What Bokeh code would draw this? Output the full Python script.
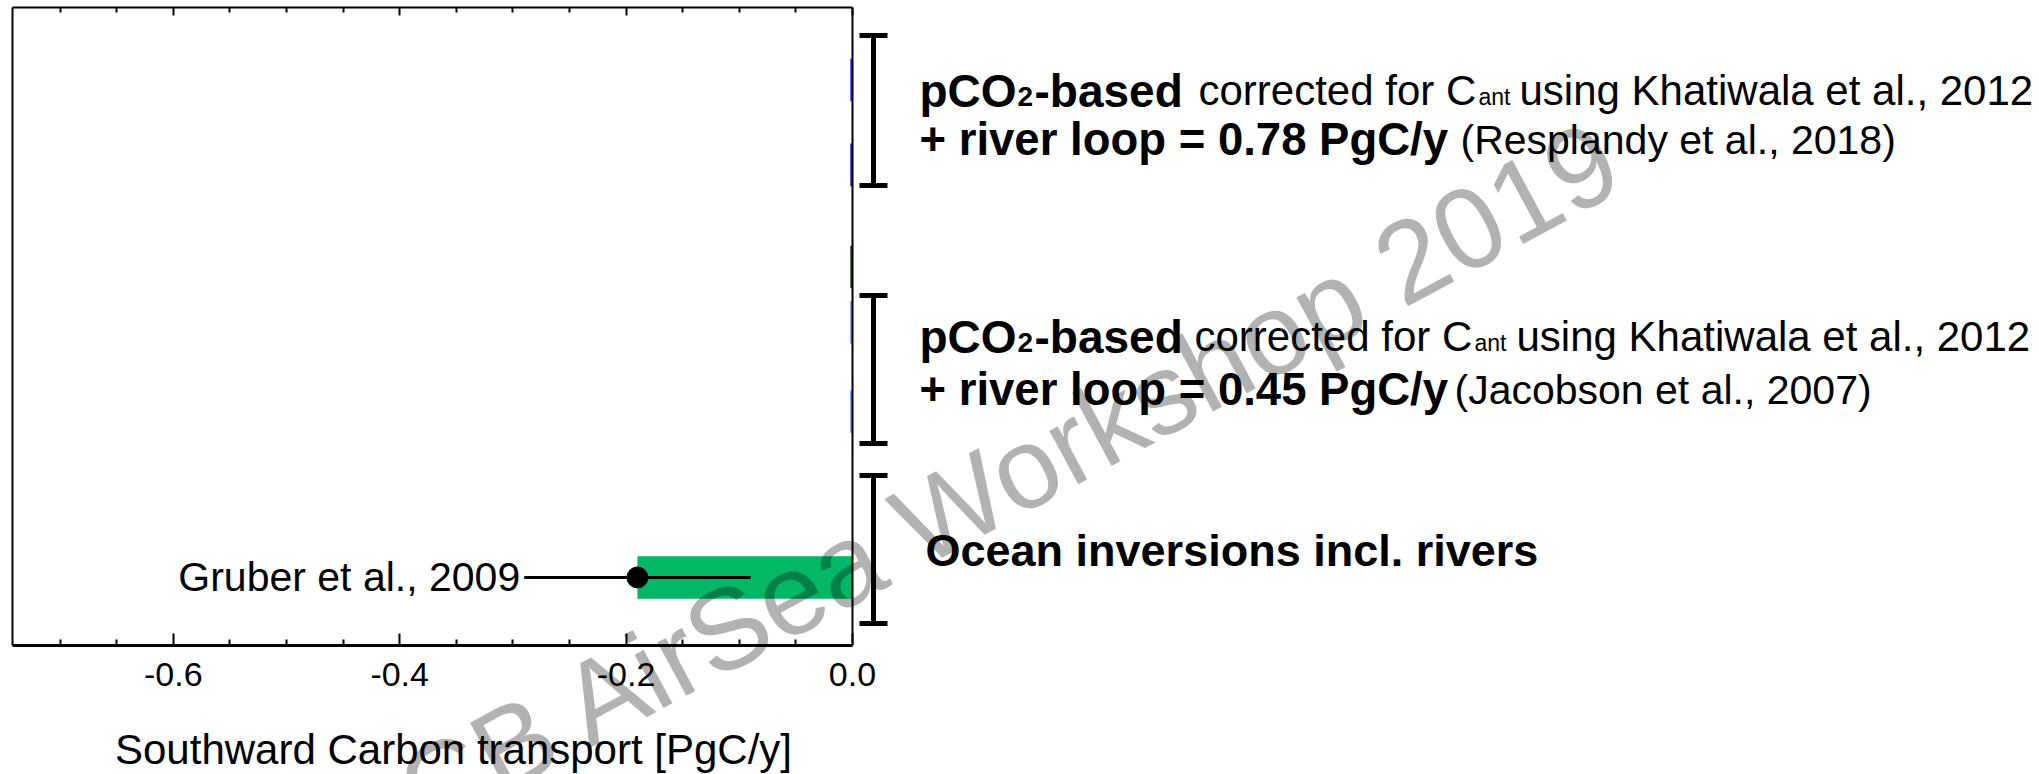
from bokeh.plotting import figure
from bokeh.layouts import column
from bokeh.models import Range1d, LinearAxis, FixedTicker, ColumnDataSource, Span
from bokeh.core.properties import value
from bokeh.embed import file_html
from bokeh.resources import INLINE

# Southward carbon transport estimates, one horizontal bar per row
row_pos = [13.3, 11.3, 8.9, 7.6, 5.5, 1.6]
transport = [-0.002, -0.002, -0.002, -0.002, -0.002, -0.19]
bar_colors = ["#3c3cff", "#2b2bd6", "#1f4f1f", "#5a9cff", "#5a9cff", "#02b866"]

# Gruber et al. (2009) ocean inversion estimate and its uncertainty
gruber_value = [-0.19]
gruber_err = [0.10]
gruber_row = [1.6]
gruber_label = ["Gruber et al., 2009"]

# x axis ticks
major_ticks = [-0.6, -0.4, -0.2, 0.0]
tick_labels = ["-0.6", "-0.4", "-0.2", "0.0"]
minor_ticks = [-0.7, -0.65, -0.55, -0.5, -0.45, -0.35, -0.3, -0.25,
               -0.15, -0.1, -0.05]
x_title = "Southward Carbon transport [PgC/y]"

FONT = "Liberation Sans"
W, H = 2039, 774
FL, FR, FT, FB = 12, 852, 7, 645          # boxed chart area (px)
XMIN, XMAX = -0.742, 0.0
YMIN, YMAX = 0.0, 15.0
# the frame runs on to the right edge so the notes beside the box fit in it
XRIGHT = XMAX + (W - FR) * (XMAX - XMIN) / (FR - FL)

# ---------------------------------------------------------------- chart
p = figure(width=W, height=H, x_range=Range1d(XMIN, XRIGHT),
           y_range=Range1d(YMIN, YMAX), output_backend="svg",
           toolbar_location=None,
           min_border_left=FL, min_border_right=0,
           min_border_top=FT, min_border_bottom=H - FB)
p.xgrid.visible = False
p.ygrid.visible = False
p.background_fill_color = "white"
p.border_fill_color = "white"
p.outline_line_color = None

ax = p.xaxis[0]
ax.bounds = (XMIN, XMAX)
ax.ticker = FixedTicker(ticks=major_ticks, minor_ticks=minor_ticks)
ax.major_label_overrides = dict(zip(major_ticks, tick_labels))
ax.major_label_text_font = FONT
ax.major_label_text_font_size = "34px"
ax.major_label_text_color = "black"
ax.major_label_standoff = 17
ax.axis_line_width = 3
ax.axis_line_color = "black"
ax.major_tick_in = 12
ax.major_tick_out = 0
ax.minor_tick_in = 6
ax.minor_tick_out = 0
ax.major_tick_line_width = 2
ax.minor_tick_line_width = 2
ax.major_tick_line_color = "black"
ax.minor_tick_line_color = "black"

# left edge of the box: a bare axis line
ay = p.yaxis[0]
ay.ticker = FixedTicker(ticks=[])
ay.major_label_standoff = 0
ay.major_tick_in = 0
ay.major_tick_out = 0
ay.minor_tick_in = 0
ay.minor_tick_out = 0
ay.axis_line_width = 2
ay.axis_line_color = "black"

# top edge with inward ticks and no labels
top = LinearAxis(ticker=FixedTicker(ticks=major_ticks, minor_ticks=minor_ticks),
                 bounds=(XMIN, XMAX),
                 major_label_overrides={t: "" for t in major_ticks},
                 major_label_text_font_size="1px", major_label_standoff=0,
                 axis_line_width=2, axis_line_color="black",
                 major_tick_in=8, major_tick_out=0,
                 minor_tick_in=5, minor_tick_out=0,
                 major_tick_line_width=2, minor_tick_line_width=2)
p.add_layout(top, "above")

# right edge of the box at zero transport
p.add_layout(Span(location=XMAX, dimension="height", line_color="black",
                  line_width=2))

# bars
bars = ColumnDataSource(dict(y=row_pos, v=transport, c=bar_colors))
p.hbar(y="y", left="v", right=0, height=1.0, fill_color="c",
       line_color=None, source=bars)

# Gruber estimate: error bar, point and name
lo = [v - e for v, e in zip(gruber_value, gruber_err)]
hi = [v + e for v, e in zip(gruber_value, gruber_err)]
p.segment(x0=lo, y0=gruber_row, x1=hi, y1=gruber_row,
          line_color="black", line_width=3)
p.scatter(x=gruber_value, y=gruber_row, size=21, color="black")
p.text(x=lo, y=gruber_row, text=gruber_label, text_align="right",
       text_baseline="middle", x_offset=-4,
       text_font=value(FONT), text_font_size="41px", text_color="black")

# ------------------------------------------- annotation layer (pixel space)
q = figure(width=W, height=H, x_range=Range1d(FL, W), y_range=Range1d(H, 0),
           output_backend="svg", toolbar_location=None,
           x_axis_location=None, y_axis_location=None,
           min_border_left=FL, min_border_right=0,
           min_border_top=0, min_border_bottom=0)
q.grid.visible = False
q.outline_line_color = None
q.background_fill_alpha = 0
q.border_fill_alpha = 0
q.styles = {"margin-top": f"-{H}px"}

# x axis title, centred under the tick labels
q.text(x=[453], y=[749], text=[x_title], text_align="center",
       text_baseline="middle", text_font=value(FONT),
       text_font_size=value("42px"), text_color="black")

# group brackets: (x, top, bottom)
brackets = [(873, 35, 185), (873, 295, 443), (873, 475, 623)]
CAP = 14
bx0, by0, bx1, by1 = [], [], [], []
for bx, t, b in brackets:
    bx0 += [bx, bx - CAP, bx - CAP]
    bx1 += [bx, bx + CAP, bx + CAP]
    by0 += [t, t, b]
    by1 += [b, t, b]
q.segment(x0=bx0, y0=by0, x1=bx1, y1=by1, line_color="black", line_width=5)

# group descriptions: (text, x px, baseline px, size px, style)
segments = [
    ("pCO", 919, 90, 46, "bold"),
    ("2", 1017, 96, 28, "bold"),
    ("-based", 1034, 90, 46, "bold"),
    ("corrected for C", 1198, 90, 42, "normal"),
    ("ant", 1478, 96, 23, "normal"),
    ("using Khatiwala et al., 2012", 1519, 90, 42, "normal"),
    ("+ river loop = 0.78 PgC/y", 919, 139, 45.5, "bold"),
    ("(Resplandy et al., 2018)", 1460, 139, 41, "normal"),

    ("pCO", 919, 336, 46, "bold"),
    ("2", 1017, 342, 28, "bold"),
    ("-based", 1034, 336, 46, "bold"),
    ("corrected for C", 1194, 336, 42, "normal"),
    ("ant", 1474, 342, 23, "normal"),
    ("using Khatiwala et al., 2012", 1516, 336, 42, "normal"),
    ("+ river loop = 0.45 PgC/y", 919, 389, 45.5, "bold"),
    ("(Jacobson et al., 2007)", 1454, 389, 41, "normal"),

    ("Ocean inversions incl. rivers", 925, 550, 45, "bold"),
]
for txt, px, py, fs, style in segments:
    q.text(x=[px], y=[py], text=[txt], text_font=value(FONT),
           text_font_size=value(f"{fs}px"), text_font_style=value(style),
           text_color="black", text_align="left", text_baseline="alphabetic")

# workshop watermark
q.text(x=[328], y=[843], text=["OCB AirSea Workshop 2019"], angle=0.495,
       text_font=value(FONT), text_font_size=value("115px"),
       text_color="black", text_alpha=0.3, text_align="left",
       text_baseline="alphabetic")

layout = column(p, q, spacing=0)
open("out.html", "w").write(file_html(layout, INLINE))
